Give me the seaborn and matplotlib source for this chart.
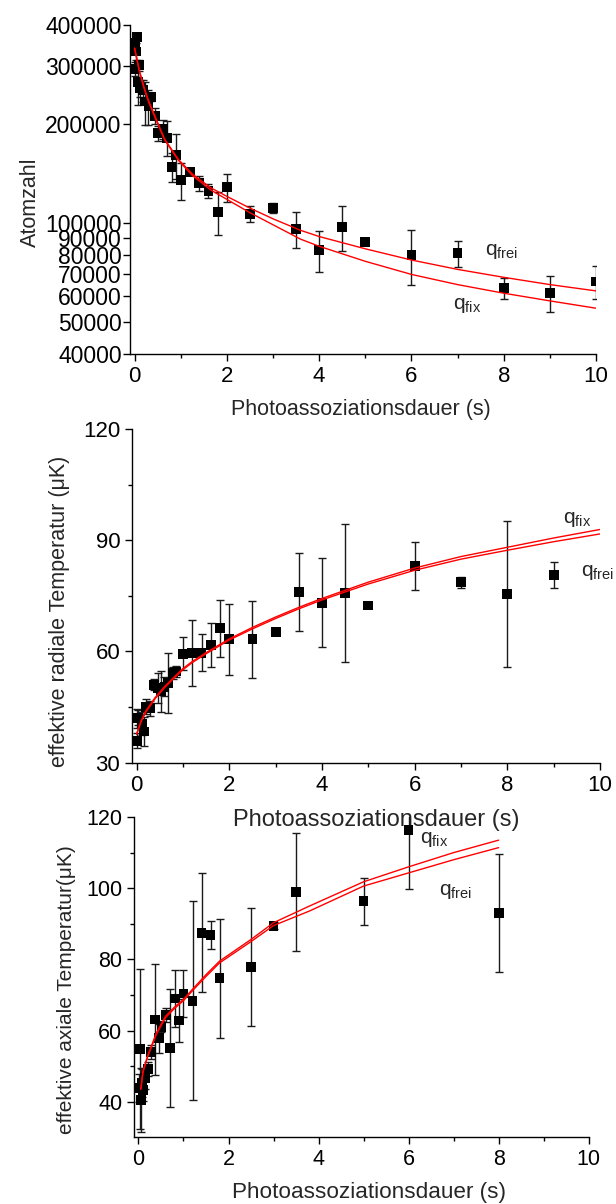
import numpy as np
import pandas as pd
import matplotlib
matplotlib.use("Agg")
import matplotlib.pyplot as plt
import seaborn as sns
from matplotlib.ticker import FixedLocator, NullLocator, MultipleLocator

# ---------------- data ----------------
# top panel: atom number
top_x = [0.0, 0.0, 0.03, 0.05, 0.1, 0.07, 0.12, 0.19, 0.23, 0.3, 0.35, 0.44, 0.5, 0.62, 0.7,
         0.8, 0.9, 1.0, 1.2, 1.4, 1.6, 1.8, 2.0, 2.5, 3.0, 3.5, 4.0, 4.5, 5.0, 6.0, 7.0, 8.0, 9.0, 10.0]
top_y = [294000, 352000, 332000, 368000, 302000, 269000, 257000, 253000, 234000, 226000, 241000,
         211500, 187500, 192800, 181800, 148400, 161000, 134900, 143300, 132100, 125100, 108200,
         128500, 106500, 111000, 95700, 82800, 97500, 87600, 80000, 80900, 63600, 61200, 66400]
top_err = [15000, 8000, 20000, 6000, 12000, 40000, 15000, 20000, 35000, 28000, 6000,
           12000, 10000, 13000, 22000, 15000, 25000, 17000, 3000, 7000, 6000, 16000,
           12500, 6000, 4000, 12000, 12000, 15000, 0, 15000, 7500, 4700, 7700, 7600]
top_fit_x = [0.0, 0.1, 0.2, 0.3, 0.45, 0.65, 0.95, 1.25, 1.65, 2.0, 2.5, 3.0, 3.6, 4.0, 5.0, 6.0, 7.0, 8.0, 9.0, 10.0]
top_frei = [340000, 292000, 260000, 236000, 210000, 180000, 156000, 141000, 128000, 120500, 111000,
            103000, 95000, 91000, 83500, 77200, 72300, 68400, 65000, 62200]
top_fix = [340000, 290000, 258000, 234000, 208000, 179000, 155000, 139500, 126000, 118000, 107500,
           98800, 89300, 85000, 76500, 69800, 65000, 61200, 58000, 55100]
top_yticks = [40000, 50000, 60000, 70000, 80000, 90000, 100000, 200000, 300000, 400000]

# middle panel: radial temperature
mid_x = [0.0, 0.01, 0.04, 0.11, 0.16, 0.21, 0.28, 0.37, 0.46, 0.53, 0.6, 0.68, 0.78, 0.86,
         1.0, 1.2, 1.4, 1.6, 1.8, 2.0, 2.5, 3.0, 3.5, 4.0, 4.5, 5.0, 6.0, 7.0, 8.0, 9.0]
mid_y = [42.0, 35.9, 42.2, 40.6, 38.4, 45.1, 44.7, 51.0, 50.1, 49.2, 50.5, 51.5, 54.2, 54.6,
         59.4, 59.6, 59.7, 61.8, 66.3, 63.3, 63.3, 65.2, 76.1, 73.1, 75.8, 72.4, 83.0, 78.7, 75.6, 80.6]
mid_err = [2.5, 2.0, 2.0, 3.0, 4.0, 2.0, 2.0, 1.5, 4.0, 5.5, 2.5, 8.0, 1.5, 1.5,
           4.5, 8.8, 5.0, 6.0, 7.7, 9.6, 10.4, 0.0, 10.5, 12.0, 18.7, 0.0, 6.5, 1.5, 19.7, 3.5]
mid_fit_x = [0.0, 0.1, 0.2, 0.4, 0.6, 0.8, 1.0, 1.2, 1.5, 2.0, 2.5, 3.0, 3.5, 4.0, 5.0, 6.0, 7.0, 8.0, 9.0, 10.0]
mid_fix = [37.8, 41.5, 44.0, 47.6, 50.5, 53.0, 55.4, 57.3, 59.7, 63.4, 66.5, 69.3, 71.9, 74.3,
           78.7, 82.5, 85.6, 88.1, 90.6, 92.9]
mid_frei = [37.6, 41.2, 43.7, 47.3, 50.2, 52.7, 55.1, 57.0, 59.4, 63.1, 66.1, 68.9, 71.5, 73.9,
            78.2, 81.9, 84.9, 87.3, 89.6, 91.7]

# bottom panel: axial temperature
bot_x = [0.007, 0.04, 0.05, 0.07, 0.1, 0.14, 0.21, 0.27, 0.36, 0.46, 0.51, 0.62, 0.7, 0.81, 0.9,
         1.0, 1.2, 1.4, 1.6, 1.8, 2.5, 3.0, 3.5, 5.0, 6.0, 8.0]
bot_y = [43.8, 54.8, 40.5, 45.2, 43.3, 46.6, 49.1, 54.0, 63.1, 57.8, 61.1, 64.4, 55.0, 69.0, 62.8,
         70.4, 68.4, 87.5, 86.8, 74.7, 77.9, 89.4, 99.0, 96.4, 116.3, 93.1]
bot_err = [4.0, 22.5, 9.0, 4.0, 3.0, 3.0, 2.0, 2.0, 15.7, 4.0, 1.5, 2.0, 16.6, 8.0, 6.0,
           6.7, 28.0, 16.8, 4.0, 16.7, 16.6, 1.0, 16.6, 6.6, 16.6, 16.6]
bot_fit_x = [0.05, 0.1, 0.2, 0.4, 0.6, 0.8, 1.0, 1.2, 1.5, 1.8, 2.5, 3.0, 3.8, 5.0, 6.0, 7.0, 8.0]
bot_fix = [43.5, 48.5, 52.8, 59.4, 64.0, 66.6, 68.8, 71.6, 75.7, 79.5, 85.6, 90.3, 95.0, 101.8, 106.0, 110.0, 113.5]
bot_frei = [43.5, 48.3, 52.5, 59.0, 63.6, 66.2, 68.4, 71.2, 75.2, 79.0, 85.0, 89.5, 93.6, 100.6, 104.3, 108.0, 111.4]

xlabel = "Photoassoziationsdauer (s)"

# ---------------- style ----------------
sns.set_theme(style="ticks")
plt.rcParams["font.family"] = ["Liberation Sans", "DejaVu Sans"]
plt.rcParams["mathtext.fontset"] = "custom"
plt.rcParams["mathtext.rm"] = "Liberation Sans"
plt.rcParams["mathtext.it"] = "Liberation Sans:italic"
plt.rcParams["axes.linewidth"] = 1.0
plt.rcParams["axes.edgecolor"] = "black"

fig = plt.figure(figsize=(6.16, 12.04), dpi=100)
ax1 = fig.add_axes([0.2110, 0.7060, 0.7565, 0.2733])
ax2 = fig.add_axes([0.2143, 0.3665, 0.7597, 0.2772])
ax3 = fig.add_axes([0.2175, 0.0554, 0.7381, 0.2660])
for a in (ax1, ax2, ax3):
    a.patch.set_alpha(0.0)


def draw(ax, x, y, err, fx, f1, f2):
    ax.errorbar(x, y, yerr=err, fmt="none", ecolor="#1a1a1a", elinewidth=1.0,
                capsize=2.8, capthick=1.0, zorder=2)
    sns.scatterplot(x=x, y=y, ax=ax, marker="s", color="black", s=50,
                    edgecolor="none", zorder=3, legend=False)
    sns.lineplot(x=fx, y=f1, ax=ax, color="red", lw=1.0, zorder=4, sort=False)
    sns.lineplot(x=fx, y=f2, ax=ax, color="red", lw=1.0, zorder=4, sort=False)
    sns.despine(ax=ax)
    ax.tick_params(axis="both", which="major", direction="out", length=5, width=1.0,
                   labelsize=16, color="black", labelcolor="black")
    ax.tick_params(axis="both", which="minor", direction="out", length=3, width=1.0, color="black")
    ax.set_xlim(-0.1, 10)
    ax.xaxis.set_major_locator(MultipleLocator(2))
    ax.xaxis.set_minor_locator(MultipleLocator(1))


# top
draw(ax1, top_x, top_y, top_err, top_fit_x, top_frei, top_fix)
ax1.set_yscale("log")
ax1.set_ylim(40000, 400000)
ax1.yaxis.set_major_locator(FixedLocator(top_yticks))
ax1.yaxis.set_minor_locator(NullLocator())
ax1.set_yticks(top_yticks)
ax1.set_yticklabels([str(v) for v in top_yticks])
ax1.tick_params(axis="y", labelsize=16.5, pad=1)
ax1.tick_params(axis="x", labelsize=16)
ax1.set_xlabel(xlabel, fontsize=15.5)
ax1.set_ylabel("Atomzahl", fontsize=15.5)
ax1.xaxis.set_label_coords(0.496, -0.138)
ax1.yaxis.set_label_coords(-0.191, 0.46)
ax1.text(7.6, 79800, r"q$_\mathrm{frei}$", fontsize=15, va="baseline", ha="left")
ax1.text(6.9, 54700, r"q$_\mathrm{fix}$", fontsize=15, va="baseline", ha="left")

# middle
draw(ax2, mid_x, mid_y, mid_err, mid_fit_x, mid_fix, mid_frei)
ax2.set_ylim(30, 120)
ax2.yaxis.set_major_locator(MultipleLocator(30))
ax2.yaxis.set_minor_locator(MultipleLocator(15))
ax2.tick_params(axis="both", labelsize=16)
ax2.set_xlabel(xlabel, fontsize=17)
ax2.set_ylabel("effektive radiale Temperatur (μK)", fontsize=15.5)
ax2.xaxis.set_label_coords(0.521, -0.140)
ax2.yaxis.set_label_coords(-0.1325, 0.455)
ax2.text(9.21, 94.7, r"q$_\mathrm{fix}$", fontsize=15, va="baseline", ha="left")
ax2.text(9.6, 80.3, r"q$_\mathrm{frei}$", fontsize=15, va="baseline", ha="left")

# bottom
draw(ax3, bot_x, bot_y, bot_err, bot_fit_x, bot_fix, bot_frei)
ax3.set_ylim(30, 120)
ax3.yaxis.set_major_locator(FixedLocator([40, 60, 80, 100, 120]))
ax3.yaxis.set_minor_locator(FixedLocator([50, 70, 90, 110]))
ax3.tick_params(axis="both", labelsize=15.5)
ax3.set_xlabel(xlabel, fontsize=16.2)
ax3.set_ylabel("effektive axiale Temperatur(μK)", fontsize=15)
ax3.xaxis.set_label_coords(0.518, -0.141)
ax3.yaxis.set_label_coords(-0.1276, 0.46)
ax3.text(6.25, 112.8, r"q$_\mathrm{fix}$", fontsize=15, va="baseline", ha="left")
ax3.text(6.68, 98.1, r"q$_\mathrm{frei}$", fontsize=15, va="baseline", ha="left")

fig.savefig("out.png", dpi=100)
